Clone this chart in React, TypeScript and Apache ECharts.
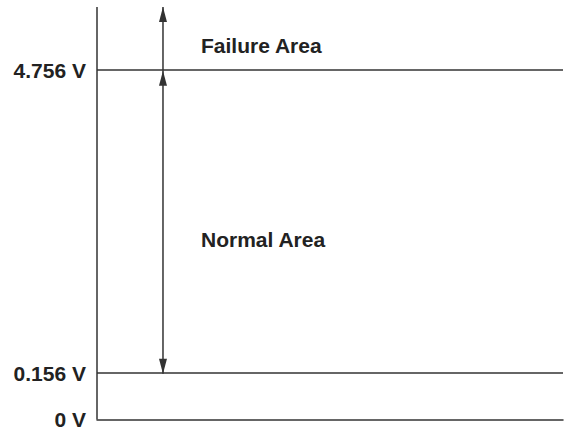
import React, { useEffect, useRef } from "react";
import * as echarts from "echarts";

// Voltage thresholds shown on the vertical axis (V)
const levelValues = [0, 0.156, 4.756];
// Region names: between the two thresholds, and above the upper one
const areaNames = ["Normal Area", "Failure Area"];
// Upper end of the axis (V) and the compressed (broken) part of the voltage scale
const axisTop = 4.973;
const breakStart = 0.25;
const breakEnd = 4.65;
const breakGap = 0.831;
// Horizontal position (fraction of the plot width) of the range arrows
const arrowX = 0.1416;

const ink = "#333333";
const textInk = "#222222";
const font = "'Liberation Sans', Arial, Helvetica, sans-serif";

export default function App() {
  const ref = useRef<HTMLDivElement>(null);

  useEffect(() => {
    if (!ref.current) return;
    const chart = echarts.init(ref.current, undefined, { renderer: "svg" });
    const [vZero, vLow, vHigh] = levelValues;

    const option: any = {
      animation: false,
      backgroundColor: "#ffffff",
      grid: { left: 97, right: 1, top: 7, bottom: 9, containLabel: false },
      xAxis: {
        type: "value",
        min: 0,
        max: 1,
        axisLine: { show: true, onZero: false, lineStyle: { color: ink, width: 1.5 } },
        axisTick: { show: false },
        axisLabel: { show: false },
        splitLine: { show: false },
      },
      yAxis: {
        type: "value",
        min: vZero,
        max: axisTop,
        breaks: [{ start: breakStart, end: breakEnd, gap: breakGap }],
        breakArea: { show: false },
        axisLine: { show: false },
        axisTick: { show: false },
        splitLine: { show: false },
        axisLabel: {
          customValues: levelValues,
          formatter: (v: number) => `${v} V`,
          color: textInk,
          fontFamily: font,
          fontWeight: "bold",
          fontSize: 21,
          margin: 11,
        },
      },
      series: [
        {
          type: "line",
          name: "levels",
          data: [],
          markLine: {
            silent: true,
            symbol: ["none", "none"],
            label: { show: false },
            lineStyle: { color: ink, width: 1.5, type: "solid" },
            data: [{ xAxis: 0 }, { yAxis: vLow }, { yAxis: vHigh }],
          },
          markArea: {
            silent: true,
            itemStyle: { color: "rgba(0,0,0,0)" },
            label: {
              position: "insideLeft",
              distance: 38,
              color: textInk,
              fontFamily: font,
              fontWeight: "bold",
              fontSize: 21,
            },
            data: [
              [
                { name: areaNames[0], xAxis: arrowX, yAxis: vLow, label: { offset: [0, 17] } },
                { xAxis: 1, yAxis: vHigh },
              ],
              [
                { name: areaNames[1], xAxis: arrowX, yAxis: vHigh, label: { offset: [0, 7] } },
                { xAxis: 1, yAxis: axisTop },
              ],
            ],
          },
        },
        {
          type: "line",
          name: areaNames[0],
          data: [
            [arrowX, vLow],
            [arrowX, vHigh],
          ],
          showSymbol: false,
          symbol: "none",
          lineStyle: { color: ink, width: 1.5 },
        },
        {
          type: "line",
          name: areaNames[1],
          data: [
            [arrowX, vHigh],
            [arrowX, axisTop],
          ],
          showSymbol: false,
          symbol: "none",
          clip: false,
          lineStyle: { color: ink, width: 1.5 },
        },
        {
          type: "scatter",
          name: "arrow heads up",
          data: [
            [arrowX, vHigh],
            [arrowX, axisTop],
          ],
          symbol: "triangle",
          symbolSize: [8, 15],
          symbolOffset: [0, "50%"],
          itemStyle: { color: "#000000" },
          clip: false,
          silent: true,
        },
        {
          type: "scatter",
          name: "arrow heads down",
          data: [[arrowX, vLow]],
          symbol: "triangle",
          symbolSize: [8, 15],
          symbolRotate: 180,
          symbolOffset: [0, "-50%"],
          itemStyle: { color: "#000000" },
          clip: false,
          silent: true,
        },
      ],
    };

    chart.setOption(option);
    return () => chart.dispose();
  }, []);

  return (
    <div
      ref={ref}
      style={{ position: "absolute", left: 0, top: 0, width: 564, height: 430, background: "#fff" }}
    />
  );
}
